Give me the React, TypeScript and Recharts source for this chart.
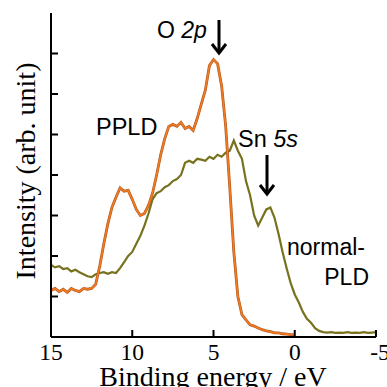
import React from "react";
import { LineChart, Line, XAxis, YAxis } from "recharts";

const energies_pp = [15,14.75,14.5,14.25,14,13.75,13.5,13.25,13,12.75,12.5,12.25,12,11.75,11.5,11.25,11,10.75,10.5,10.25,10,9.75,9.5,9.25,9,8.75,8.5,8.25,8,7.75,7.5,7.25,7,6.75,6.5,6.25,6,5.75,5.5,5.25,5,4.75,4.5,4.25,4,3.75,3.5,3.25,3,2.75,2.5,2.25,2,1.75,1.5,1.25,1,0.75,0.5,0.25,0];
const ppldValues = [1.15,1.2,1.12,1.18,1.1,1.2,1.15,1.12,1.2,1.18,1.2,1.3,1.75,2.3,2.8,3.2,3.45,3.68,3.6,3.62,3.4,3.15,3.0,3.05,3.25,3.55,4.0,4.5,4.9,5.2,5.25,5.2,5.3,5.15,5.2,5.1,5.4,5.75,6.1,6.7,6.85,6.75,6.2,5.2,3.7,2.1,1.0,0.55,0.42,0.3,0.27,0.22,0.18,0.15,0.13,0.1,0.1,0.08,0.07,0.06,0.05];

const energies_n = [15,14.75,14.5,14.25,14,13.75,13.5,13.25,13,12.75,12.5,12.25,12,11.75,11.5,11.25,11,10.75,10.5,10.25,10,9.75,9.5,9.25,9,8.75,8.5,8.25,8,7.75,7.5,7.25,7,6.75,6.5,6.25,6,5.75,5.5,5.25,5,4.75,4.5,4.25,4,3.75,3.5,3.25,3,2.75,2.5,2.25,2,1.75,1.5,1.25,1,0.75,0.5,0.25,0,-0.25,-0.5,-0.75,-1,-1.25,-1.5,-1.75,-2,-2.25,-2.5,-2.75,-3,-3.25,-3.5,-3.75,-4,-4.25,-4.5,-4.75,-5];
const normalValues = [1.78,1.72,1.75,1.68,1.7,1.62,1.66,1.6,1.55,1.5,1.48,1.55,1.58,1.6,1.56,1.6,1.58,1.7,1.85,2.0,2.1,2.3,2.5,2.75,3.05,3.4,3.55,3.6,3.7,3.75,3.85,3.9,4.0,4.3,4.35,4.3,4.4,4.38,4.35,4.45,4.4,4.5,4.45,4.55,4.6,4.85,4.6,4.4,3.85,3.5,3.0,2.75,2.95,3.15,3.2,2.95,2.55,2.1,1.7,1.33,1.05,0.85,0.62,0.45,0.35,0.22,0.15,0.12,0.11,0.12,0.1,0.11,0.1,0.12,0.1,0.11,0.1,0.12,0.1,0.11,0.12];

const xTicks = [15, 10, 5, 0, -5];
const yTicks = [1, 2, 3, 4, 5, 6, 7];

const ppldData = energies_pp.map((e, i) => ({ e, v: ppldValues[i] }));
const normalData = energies_n.map((e, i) => ({ e, v: normalValues[i] }));

const SERIF = "'Liberation Serif', 'Times New Roman', serif";
const SANS = "'Liberation Sans', Arial, sans-serif";

const BottomTick = (props: any) => {
  const { x, y, payload } = props;
  const dx = payload.value < 0 ? 4 : 0;
  return (
    <g>
      <line x1={x} y1={y} x2={x} y2={y - 7} stroke="#000" strokeWidth={2} />
      <text x={x + dx} y={y + 23} textAnchor="middle" fontFamily={SERIF} fontSize={23.5} fill="#000">
        {payload.value}
      </text>
    </g>
  );
};
const TopTick = (props: any) => {
  const { x, y } = props;
  return <line x1={x} y1={y} x2={x} y2={y + 7} stroke="#000" strokeWidth={2} />;
};
const LeftTick = (props: any) => {
  const { x, y } = props;
  return <line x1={x} y1={y} x2={x + 7} y2={y} stroke="#000" strokeWidth={2} />;
};
const RightTick = (props: any) => {
  const { x, y } = props;
  return <line x1={x} y1={y} x2={x - 7} y2={y} stroke="#000" strokeWidth={2} />;
};

const axisLine = { stroke: "#000", strokeWidth: 2 };

export default function App() {
  return (
    <div style={{ position: "absolute", left: 0, top: 0, width: 387, height: 387, background: "#fff" }}>
      <LineChart width={387} height={387} margin={{ top: 13, right: 11, left: 0, bottom: 0 }}>
        <XAxis xAxisId="b" type="number" dataKey="e" domain={[-5, 15]} reversed ticks={xTicks}
          height={50} tickSize={0} tickMargin={0} tickLine={false} axisLine={axisLine} tick={<BottomTick />} allowDataOverflow />
        <XAxis xAxisId="t" orientation="top" type="number" dataKey="e" domain={[-5, 15]} reversed ticks={xTicks}
          height={0} tickSize={0} tickMargin={0} tickLine={false} axisLine={axisLine} tick={<TopTick />} allowDataOverflow />
        <YAxis yAxisId="l" type="number" domain={[0, 8]} ticks={yTicks} width={51}
          tickSize={0} tickMargin={0} tickLine={false} axisLine={axisLine} tick={<LeftTick />} allowDataOverflow />
        <YAxis yAxisId="r" orientation="right" type="number" domain={[0, 8]} ticks={yTicks} width={0}
          tickSize={0} tickMargin={0} tickLine={false} axisLine={axisLine} tick={<RightTick />} allowDataOverflow />
        <Line xAxisId="b" yAxisId="l" data={normalData} dataKey="v" type="linear" stroke="#77721e" strokeWidth={2.2} dot={false} isAnimationActive={false} />
        <Line xAxisId="b" yAxisId="l" data={ppldData} dataKey="v" type="linear" stroke="#b0581f" strokeWidth={2.8} dot={false} isAnimationActive={false} />
        <Line xAxisId="b" yAxisId="l" data={ppldData} dataKey="v" type="linear" stroke="#f47b20" strokeWidth={1.6} dot={false} isAnimationActive={false} />
      </LineChart>
      <svg width={387} height={387} style={{ position: "absolute", left: 0, top: 0, pointerEvents: "none" }}>
        <text x={213} y={386} textAnchor="middle" fontFamily={SERIF} fontSize={28} fill="#000">Binding energy / eV</text>
        <text x={35} y={171} textAnchor="middle" fontFamily={SERIF} fontSize={28} fill="#000" transform="rotate(-90, 35, 171)">Intensity (arb. unit)</text>
        <text x={157} y={38} fontFamily={SANS} fontSize={23} fill="#000">O <tspan fontStyle="italic">2p</tspan></text>
        <text x={96} y={135} fontFamily={SANS} fontSize={23.5} fill="#000">PPLD</text>
        <text x={238} y={147} fontFamily={SANS} fontSize={23.5} fill="#000">Sn <tspan fontStyle="italic">5s</tspan></text>
        <text x={365} y={255} textAnchor="end" fontFamily={SANS} fontSize={23} fill="#000">normal-</text>
        <text x={369} y={285} textAnchor="end" fontFamily={SANS} fontSize={23} fill="#000">PLD</text>
        <line x1={219} y1={20} x2={219} y2={52} stroke="#000" strokeWidth={3} />
        <path d="M212,44 L219,53 L226,44" fill="none" stroke="#000" strokeWidth={3} />
        <line x1={267} y1={155} x2={267} y2={193} stroke="#000" strokeWidth={3} />
        <path d="M260,185 L267,194 L274,185" fill="none" stroke="#000" strokeWidth={3} />
      </svg>
    </div>
  );
}
